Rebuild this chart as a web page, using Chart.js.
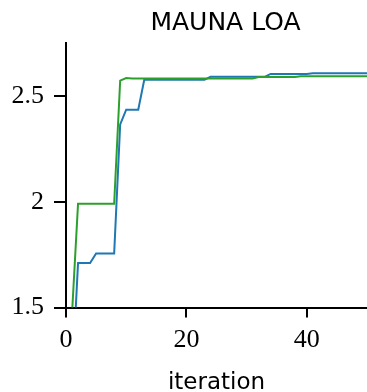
<!DOCTYPE html>
<html>
<head>
<meta charset="utf-8">
<script src="https://cdn.jsdelivr.net/npm/chart.js@4"></script>
<style>
  html, body { margin: 0; padding: 0; background: #fff; }
  #wrap { width: 367px; height: 392px; }
</style>
</head>
<body>
<div id="wrap"><canvas id="maunaChart"></canvas></div>
<script>
var iterations = [1,2,3,4,5,6,7,8,9,10,11,12,13,14,15,16,17,18,19,20,21,22,23,24,25,26,27,28,29,30,31,32,33,34,35,36,37,38,39,40,41,42,43,44,45,46,47,48,49,50];
var blueValues = [1.15,1.71,1.71,1.71,1.755,1.755,1.755,1.755,2.365,2.435,2.435,2.435,2.576,2.576,2.576,2.576,2.576,2.576,2.576,2.576,2.576,2.576,2.576,2.59,2.59,2.59,2.59,2.59,2.59,2.59,2.59,2.59,2.59,2.604,2.604,2.604,2.604,2.604,2.604,2.604,2.607,2.607,2.607,2.607,2.607,2.607,2.607,2.607,2.607,2.607];
var greenValues = [1.47,1.99,1.99,1.99,1.99,1.99,1.99,1.99,2.572,2.584,2.582,2.582,2.582,2.582,2.582,2.582,2.582,2.582,2.582,2.582,2.582,2.582,2.582,2.582,2.582,2.582,2.582,2.582,2.582,2.582,2.582,2.589,2.589,2.589,2.589,2.589,2.589,2.589,2.593,2.593,2.593,2.593,2.593,2.593,2.593,2.593,2.593,2.593,2.593,2.593];
var xTicks = [0, 20, 40];
var yTicks = [1.5, 2, 2.5];
var chartTitle = 'MAUNA LOA';
var xTitle = 'iteration';

function toPoints(vals) {
  return vals.map(function (v, i) { return { x: iterations[i], y: v }; });
}

// title is drawn a bit right of the plot centre, like the original figure
var titlePlugin = {
  id: 'offsetTitle',
  afterDraw: function (chart) {
    var c = chart.ctx;
    var a = chart.chartArea;
    c.save();
    c.font = '25px "DejaVu Sans"';
    c.fillStyle = '#000';
    c.textAlign = 'center';
    c.textBaseline = 'alphabetic';
    c.fillText(chartTitle, (a.left + a.right) / 2 + 9, 30);
    c.restore();
  }
};

var tickFont = { family: '"Liberation Serif"', size: 26 };

var ctx = document.getElementById('maunaChart').getContext('2d');
var maunaChart = new Chart(ctx, {
  type: 'line',
  data: {
    datasets: [{
      label: 'green',
      data: toPoints(greenValues),
      borderColor: '#2ca02c',
      borderWidth: 2,
      pointRadius: 0,
      tension: 0,
      fill: false
    }, {
      label: 'blue',
      data: toPoints(blueValues),
      borderColor: '#1f77b4',
      borderWidth: 2,
      pointRadius: 0,
      tension: 0,
      fill: false
    }]
  },
  options: {
    responsive: true,
    maintainAspectRatio: false,
    animation: false,
    layout: { padding: { top: 43, right: 0, left: 0, bottom: 0 } },
    plugins: {
      legend: { display: false },
      tooltip: { enabled: false }
    },
    scales: {
      x: {
        type: 'linear',
        min: 0,
        max: 50,
        afterBuildTicks: function (axis) {
          axis.ticks = xTicks.map(function (v) { return { value: v }; });
        },
        afterFit: function (axis) { axis.height = 84.5; },
        ticks: {
          font: tickFont,
          color: '#000',
          padding: 7,
          maxRotation: 0,
          callback: function (v) { return String(v); }
        },
        grid: {
          drawOnChartArea: false,
          drawTicks: true,
          tickLength: 10,
          color: '#000',
          lineWidth: 2
        },
        border: { display: true, color: '#000', width: 2 },
        title: {
          display: true,
          text: xTitle,
          color: '#000',
          font: { family: '"DejaVu Sans"', size: 23, lineHeight: 0.8 },
          padding: 0
        }
      },
      y: {
        min: 1.5,
        max: 2.75,
        afterBuildTicks: function (axis) {
          axis.ticks = yTicks.map(function (v) { return { value: v }; });
        },
        afterFit: function (axis) { axis.width = 66; },
        ticks: {
          font: tickFont,
          color: '#000',
          padding: 10,
          callback: function (v) { return String(v); }
        },
        grid: {
          drawOnChartArea: false,
          drawTicks: true,
          tickLength: 12,
          color: '#000',
          lineWidth: 2
        },
        border: { display: true, color: '#000', width: 2 }
      }
    }
  },
  plugins: [titlePlugin]
});
</script>
</body>
</html>
